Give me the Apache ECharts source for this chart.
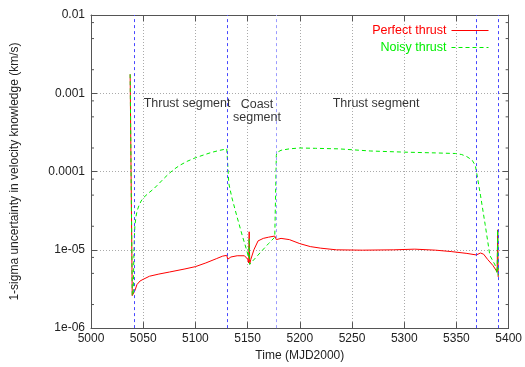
<!DOCTYPE html>
<html>
<head>
<meta charset="utf-8">
<script src="https://cdn.jsdelivr.net/npm/echarts@6/dist/echarts.min.js"></script>
<style>
  html, body { margin: 0; padding: 0; background: #fff; }
  #chart { width: 525px; height: 367px; }
</style>
</head>
<body>
<div id="chart"></div>
<script>
// time (MJD2000) and 1-sigma velocity uncertainty (km/s)
const perfectTime = [5037.5, 5039.5, 5041, 5042, 5044, 5047, 5050, 5056, 5065, 5075, 5090, 5100, 5110, 5120, 5126, 5130,
  5131, 5134, 5140, 5147, 5150, 5151, 5151.5, 5152, 5153, 5156, 5160, 5165, 5170, 5176, 5177.5, 5182, 5190, 5200, 5210,
  5220, 5235, 5260, 5290, 5310, 5330, 5345, 5360, 5369, 5373, 5376, 5380, 5385, 5389, 5389.5, 5390];
const perfectSigma = [1.75e-3, 2.6e-6, 2.7e-6, 3.0e-6, 3.6e-6, 4.0e-6, 4.2e-6, 4.6e-6, 4.9e-6, 5.2e-6, 5.7e-6, 6.1e-6, 6.8e-6, 7.7e-6, 8.3e-6, 8.5e-6,
  7.6e-6, 8.1e-6, 8.4e-6, 8.4e-6, 7.6e-6, 6.8e-6, 1.7e-5, 6.6e-6, 7.5e-6, 1.0e-5, 1.3e-5, 1.4e-5, 1.45e-5, 1.5e-5, 1.35e-5, 1.4e-5, 1.35e-5, 1.2e-5, 1.1e-5,
  1.05e-5, 1.0e-5, 9.9e-6, 1.0e-5, 1.02e-5, 9.9e-6, 9.5e-6, 9.0e-6, 8.6e-6, 9.1e-6, 8.8e-6, 7.5e-6, 6.3e-6, 5.2e-6, 1.8e-5, 4.5e-6];

const noisyTime = [5037.5, 5039.5, 5040.5, 5041, 5041.5, 5042, 5043, 5044, 5046, 5048, 5050, 5055, 5060, 5065, 5070, 5075,
  5080, 5085, 5092, 5100, 5108, 5115, 5122, 5130,
  5131, 5132, 5135, 5140, 5145, 5149, 5151, 5151.5, 5152, 5154, 5158, 5163, 5170, 5176, 5177, 5177.5, 5178, 5182, 5190,
  5200, 5215, 5237, 5268, 5300, 5330, 5349, 5355, 5360, 5365, 5368, 5369, 5373, 5377.5, 5382, 5387, 5389, 5389.5, 5390];
const noisySigma = [1.75e-3, 2.6e-6, 2.8e-6, 8e-6, 1.4e-5, 2.0e-5, 2.6e-5, 3.1e-5, 3.7e-5, 4.2e-5, 4.6e-5, 5.3e-5, 6.0e-5, 7.0e-5, 8.2e-5, 9.5e-5,
  1.08e-4, 1.2e-4, 1.35e-4, 1.5e-4, 1.63e-4, 1.75e-4, 1.85e-4, 1.95e-4,
  1.2e-4, 7e-5, 4.6e-5, 2.6e-5, 1.5e-5, 1.0e-5, 8e-6, 1.4e-5, 6.5e-6, 7.0e-6, 8e-6, 9.5e-6, 1.2e-5, 1.45e-5, 1.5e-5, 1.6e-4, 1.75e-4, 1.87e-4, 1.95e-4,
  2.0e-4, 1.98e-4, 1.95e-4, 1.83e-4, 1.77e-4, 1.73e-4, 1.7e-4, 1.65e-4, 1.55e-4, 1.4e-4, 1.2e-4, 1.03e-4, 5e-5, 2.1e-5, 8.5e-6, 6.4e-6, 5e-6, 1.8e-5, 4.7e-6];

// segment boundaries (vertical dashed lines)
const segmentBounds = [5041, 5130.5, 5177, 5369, 5390];

const segmentNames = ['Thrust segment', 'Coast\nsegment', 'Thrust segment'];
const segmentLabelTime = [5092, 5159, 5273];
const segmentLabelSigma = [7.4e-4, 6.0e-4, 7.4e-4];

const yTickLabels = { '-6': '1e-06', '-5': '1e-05', '-4': '0.0001', '-3': '0.001', '-2': '0.01' };
const minorDecades = [-6, -5, -4, -3];
const minorSteps = [2, 5, 8];

const zip = (xs, ys) => xs.map((x, i) => [x, ys[i]]);

const minorTicks = [];
minorDecades.forEach(d => minorSteps.forEach(m => minorTicks.push([5000, m * Math.pow(10, d)])));

const FONT = '"Liberation Sans", Arial, sans-serif';
const AXIS_COLOR = '#555';
const RED = '#ff0000';
const GREEN = '#00ee00';
const GREEN_DASH = [4, 3];

const chart = echarts.init(document.getElementById('chart'));

const xAxisBase = {
  type: 'value', min: 5000, max: 5400, interval: 50,
  axisLine: { show: true, lineStyle: { color: AXIS_COLOR, width: 1 } },
  axisTick: { show: true, inside: true, length: 6, lineStyle: { color: AXIS_COLOR } },
};
const yAxisBase = {
  type: 'log', logBase: 10, min: 1e-6, max: 0.01, splitNumber: 4,
  axisLine: { show: true, lineStyle: { color: AXIS_COLOR, width: 1 } },
  axisTick: { show: true, inside: true, length: 6, lineStyle: { color: AXIS_COLOR } },
};

chart.setOption({
  animation: false,
  backgroundColor: '#fff',
  textStyle: { fontFamily: FONT },
  grid: { left: 91, right: 13, top: 15, bottom: 37 },
  legend: {
    orient: 'vertical',
    right: 31,
    top: 19,
    align: 'right',
    itemWidth: 37,
    itemHeight: 10,
    itemGap: 4,
    itemStyle: { opacity: 0 },
    textStyle: { fontFamily: FONT, fontSize: 12.5 },
    data: [
      { name: 'Perfect thrust', textStyle: { color: RED }, lineStyle: { color: RED, width: 1, type: 'solid' } },
      { name: 'Noisy thrust', textStyle: { color: GREEN }, lineStyle: { color: GREEN, width: 1, type: GREEN_DASH } }
    ]
  },
  xAxis: [
    Object.assign({}, xAxisBase, {
      position: 'bottom',
      name: 'Time (MJD2000)', nameLocation: 'middle', nameGap: 17,
      nameTextStyle: { color: '#222', fontSize: 12, fontFamily: FONT },
      axisLabel: { color: '#222', fontSize: 12, margin: 5, fontFamily: FONT, formatter: v => String(v) },
      splitLine: { show: true, lineStyle: { color: '#aaa', type: [1, 2] } }
    }),
    Object.assign({}, xAxisBase, {
      position: 'top',
      axisLabel: { show: false },
      splitLine: { show: false }
    })
  ],
  yAxis: [
    Object.assign({}, yAxisBase, {
      position: 'left',
      name: '1-sigma uncertainty in velocity knowledge (km/s)', nameLocation: 'middle', nameGap: 70,
      nameTextStyle: { color: '#222', fontSize: 12, fontFamily: FONT },
      axisLabel: {
        color: '#222', fontSize: 12, margin: 6, fontFamily: FONT,
        formatter: v => yTickLabels[String(Math.round(Math.log10(v)))] || ''
      },
      splitLine: { show: true, lineStyle: { color: '#aaa', type: [1, 2] } }
    }),
    Object.assign({}, yAxisBase, {
      position: 'right',
      axisLabel: { show: false },
      splitLine: { show: false }
    })
  ],
  series: [
    {
      name: 'Perfect thrust',
      type: 'line',
      data: zip(perfectTime, perfectSigma),
      showSymbol: false,
      symbol: 'none',
      lineStyle: { color: RED, width: 1 },
      itemStyle: { color: RED },
      z: 3,
      markLine: {
        silent: true,
        symbol: 'none',
        label: { show: false },
        data: segmentBounds.map((t, i) => ({
          xAxis: t,
          lineStyle: { color: i === 2 ? '#9c9cff' : '#4848ff', type: [3, 3], width: 1 }
        }))
      }
    },
    {
      name: 'Noisy thrust',
      type: 'line',
      data: zip(noisyTime, noisySigma),
      showSymbol: false,
      symbol: 'none',
      lineStyle: { color: GREEN, width: 1, type: GREEN_DASH },
      itemStyle: { color: GREEN },
      z: 4
    },
    {
      name: 'labels',
      type: 'scatter',
      symbolSize: 0,
      silent: true,
      data: segmentNames.map((n, i) => ({ value: [segmentLabelTime[i], segmentLabelSigma[i]], name: n })),
      label: {
        show: true, position: 'inside', formatter: p => p.name,
        color: '#000', fontSize: 12.5, fontFamily: FONT, lineHeight: 13, align: 'center'
      },
      z: 5
    },
    {
      name: 'minor',
      type: 'custom',
      silent: true,
      clip: false,
      data: minorTicks,
      renderItem: (params, api) => {
        const p = api.coord([api.value(0), api.value(1)]);
        const cs = params.coordSys;
        const st = { stroke: AXIS_COLOR, lineWidth: 1 };
        return {
          type: 'group',
          children: [
            { type: 'line', shape: { x1: cs.x, y1: p[1], x2: cs.x + 3, y2: p[1] }, style: st },
            { type: 'line', shape: { x1: cs.x + cs.width, y1: p[1], x2: cs.x + cs.width - 3, y2: p[1] }, style: st }
          ]
        };
      },
      z: 2
    }
  ]
});
</script>
</body>
</html>
